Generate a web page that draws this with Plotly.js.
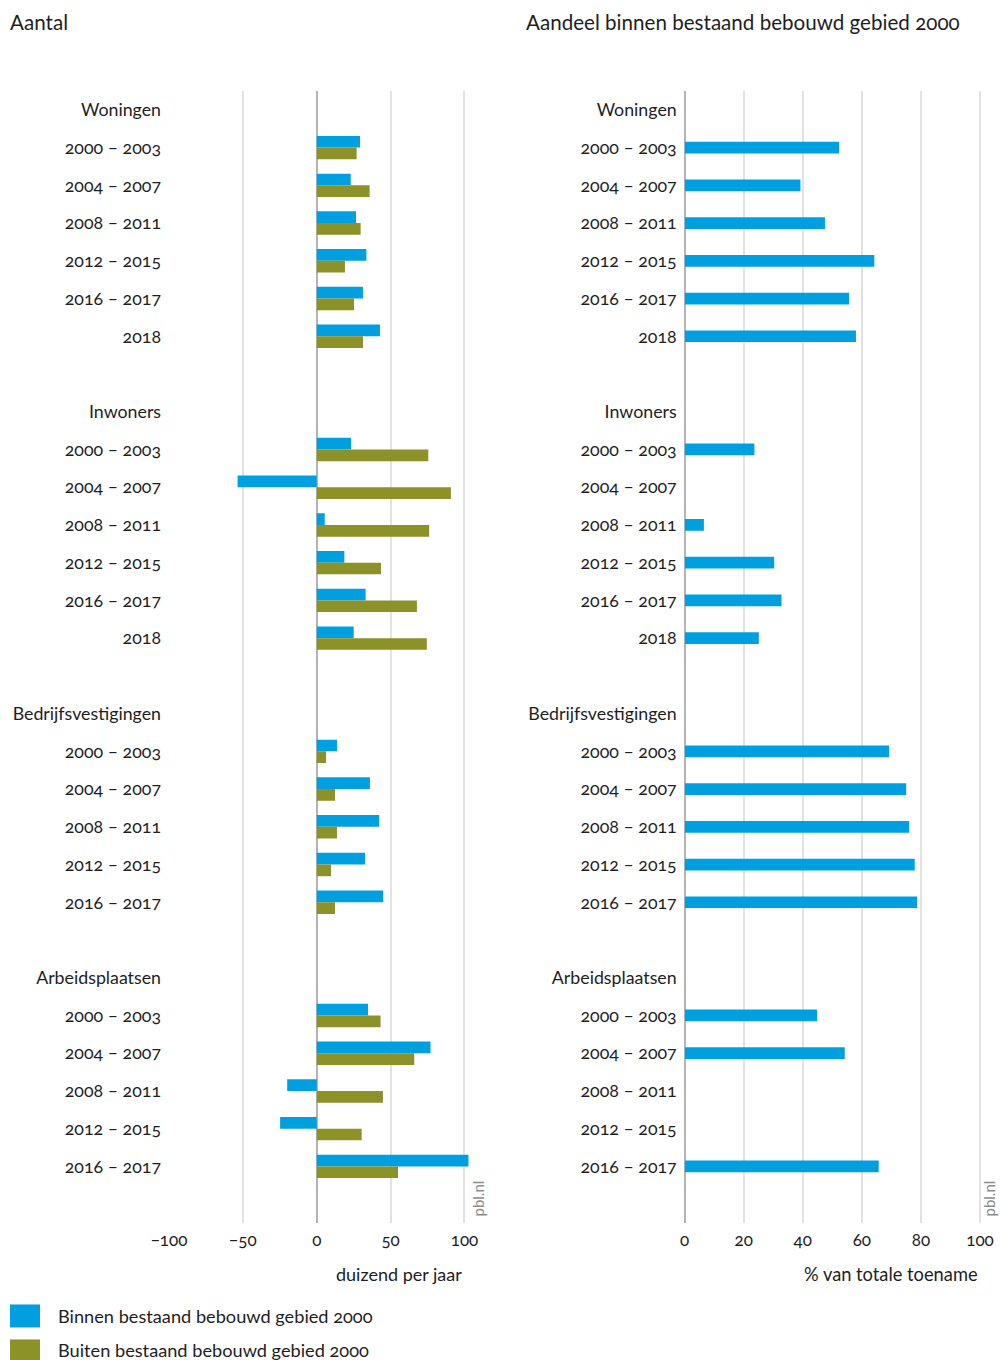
<!DOCTYPE html>
<html>
<head>
<meta charset="utf-8">
<script src="https://cdn.plot.ly/plotly-3.0.1.min.js"></script>
<style>
  html, body { margin: 0; padding: 0; background: #fff; }
  #chart { width: 1000px; height: 1360px; }
  svg text { font-variant-numeric: oldstyle-nums !important; font-feature-settings: "onum" 1 !important; }
</style>
</head>
<body>
<div id="chart"></div>
<script>
// ---------- data ----------
const groups = ["Woningen", "Inwoners", "Bedrijfsvestigingen", "Arbeidsplaatsen"];
const periods6 = ["2000 – 2003", "2004 – 2007", "2008 – 2011", "2012 – 2015", "2016 – 2017", "2018"];
const periods5 = ["2000 – 2003", "2004 – 2007", "2008 – 2011", "2012 – 2015", "2016 – 2017"];

// Aantal (duizend per jaar)
const wonBinnen = [29.3, 23.0, 26.6, 33.6, 31.3, 42.8];
const wonBuiten = [27.0, 35.8, 29.7, 19.1, 25.2, 31.3];
const inwBinnen = [23.2, -53.6, 5.4, 18.7, 33.1, 25.0];
const inwBuiten = [75.5, 90.8, 76.1, 43.5, 67.8, 74.5];
const bedBinnen = [13.7, 36.0, 42.3, 32.7, 45.0];
const bedBuiten = [6.3, 12.4, 13.7, 9.7, 12.4];
const arbBinnen = [34.7, 77.0, -20.0, -24.8, 102.7];
const arbBuiten = [43.2, 66.0, 44.8, 30.4, 55.0];

// Aandeel binnen bestaand bebouwd gebied 2000 (% van totale toename)
const wonAandeel = [52.3, 39.2, 47.5, 64.2, 55.7, 58.0];
const inwAandeel = [23.6, null, 6.5, 30.3, 32.8, 25.1];
const bedAandeel = [69.2, 75.0, 76.0, 77.9, 78.7];
const arbAandeel = [44.8, 54.2, null, null, 65.7];

const seriesNames = ["Binnen bestaand bebouwd gebied 2000", "Buiten bestaand bebouwd gebied 2000"];
const xTitles = ["duizend per jaar", "% van totale toename"];
const panelTitles = ["Aantal", "Aandeel binnen bestaand bebouwd gebied 2000"];
const xTicksLeft = [-100, -50, 0, 50, 100];
const xTicksRight = [0, 20, 40, 60, 80, 100];

// ---------- build categories ----------
const groupPeriods = [periods6, periods6, periods5, periods5];
const binnenSets = [wonBinnen, inwBinnen, bedBinnen, arbBinnen];
const buitenSets = [wonBuiten, inwBuiten, bedBuiten, arbBuiten];
const aandeelSets = [wonAandeel, inwAandeel, bedAandeel, arbAandeel];

const catIds = [], catText = [];
const yCat = [], xBinnen = [], xBuiten = [], xAandeel = [];
groups.forEach((g, gi) => {
  catIds.push(g); catText.push(g);
  groupPeriods[gi].forEach((p, pi) => {
    const id = g + "|" + p;
    catIds.push(id); catText.push(p);
    yCat.push(id);
    xBinnen.push(binnenSets[gi][pi]);
    xBuiten.push(buitenSets[gi][pi]);
    xAandeel.push(aandeelSets[gi][pi]);
  });
  if (gi < groups.length - 1) { const b = "blank" + gi; catIds.push(b); catText.push(""); }
});

// ---------- styling ----------
const BLUE = "#009fe0";
const GREEN = "#8c9128";
const FONT = "Lato, 'Noto Sans', sans-serif";
const TXT = "#1e1e1e";
const W = 1000, H = 1360, T = 91, B = 136.5;
const py = (ypx) => (H - B - ypx) / (H - T - B);
const pxX = (xpx) => xpx / W;

const traces = [
  { type: "bar", orientation: "h", name: seriesNames[0], y: yCat, x: xBinnen,
    xaxis: "x", yaxis: "y", marker: { color: BLUE }, width: 0.31, offset: -0.31, showlegend: false },
  { type: "bar", orientation: "h", name: seriesNames[1], y: yCat, x: xBuiten,
    xaxis: "x", yaxis: "y", marker: { color: GREEN }, width: 0.31, offset: 0, showlegend: false },
  { type: "bar", orientation: "h", name: seriesNames[0], y: yCat, x: xAandeel,
    xaxis: "x2", yaxis: "y2", marker: { color: BLUE }, width: 0.31, offset: -0.155, showlegend: false }
];

const yCommon = {
  type: "category", categoryorder: "array", categoryarray: catIds,
  tickmode: "array", tickvals: catIds, ticktext: catText,
  range: [29.5, -0.5], showgrid: false, zeroline: false, showline: false, ticks: "",
  ticklabelstandoff: 7,
  tickfont: { family: FONT, size: 17.8, color: TXT }, fixedrange: true
};
const xCommon = {
  showgrid: true, gridcolor: "#e2e2e2", gridwidth: 2,
  zeroline: true, zerolinecolor: "#b4b4b4", zerolinewidth: 2,
  showline: false, ticks: "", tickmode: "array", ticklabelstandoff: 5,
  tickfont: { family: FONT, size: 17, color: TXT }, fixedrange: true
};

const layout = {
  width: W, height: H,
  margin: { l: 0, r: 0, t: T, b: B },
  paper_bgcolor: "#fff", plot_bgcolor: "#fff",
  barmode: "overlay",
  font: { family: FONT, color: TXT },
  xaxis: Object.assign({}, xCommon, { domain: [0.169, 0.4763], range: [-100, 108], tickvals: xTicksLeft, anchor: "y" }),
  yaxis: Object.assign({}, yCommon, { anchor: "x" }),
  xaxis2: Object.assign({}, xCommon, { domain: [0.6847, 0.985], range: [0, 101.7], tickvals: xTicksRight, anchor: "y2" }),
  yaxis2: Object.assign({}, yCommon, { anchor: "x2" }),
  shapes: [
    { type: "rect", xref: "paper", yref: "paper", x0: pxX(10), x1: pxX(40), y0: py(1328), y1: py(1305), fillcolor: BLUE, line: { width: 0 } },
    { type: "rect", xref: "paper", yref: "paper", x0: pxX(10), x1: pxX(40), y0: py(1362), y1: py(1340), fillcolor: GREEN, line: { width: 0 } }
  ],
  annotations: [
    { text: panelTitles[0], xref: "paper", yref: "paper", x: pxX(8), y: py(22), xanchor: "left", yanchor: "middle", showarrow: false, font: { family: FONT, size: 20.6, color: TXT } },
    { text: panelTitles[1], xref: "paper", yref: "paper", x: pxX(524), y: py(22), xanchor: "left", yanchor: "middle", showarrow: false, font: { family: FONT, size: 20.6, color: TXT } },
    { text: xTitles[0], xref: "x", yref: "paper", x: 100, y: py(1275), xanchor: "right", yanchor: "middle", showarrow: false, font: { family: FONT, size: 18, color: TXT } },
    { text: xTitles[1], xref: "x2", yref: "paper", x: 100, y: py(1275), xanchor: "right", yanchor: "middle", showarrow: false, font: { family: FONT, size: 18.3, color: TXT } },
    { text: "pbl.nl", xref: "paper", yref: "paper", x: pxX(478), y: py(1199), xanchor: "center", yanchor: "middle", textangle: -90, showarrow: false, font: { family: FONT, size: 15, color: "#8c8c8c" } },
    { text: "pbl.nl", xref: "paper", yref: "paper", x: pxX(989), y: py(1199), xanchor: "center", yanchor: "middle", textangle: -90, showarrow: false, borderpad: 0, font: { family: FONT, size: 15, color: "#8c8c8c" } },
    { text: seriesNames[0], xref: "paper", yref: "paper", x: pxX(56), y: py(1317), xanchor: "left", yanchor: "middle", showarrow: false, font: { family: FONT, size: 18.2, color: TXT } },
    { text: seriesNames[1], xref: "paper", yref: "paper", x: pxX(56), y: py(1351), xanchor: "left", yanchor: "middle", showarrow: false, font: { family: FONT, size: 18.2, color: TXT } }
  ]
};

Plotly.newPlot("chart", traces, layout, { displayModeBar: false, staticPlot: true });
</script>
</body>
</html>
